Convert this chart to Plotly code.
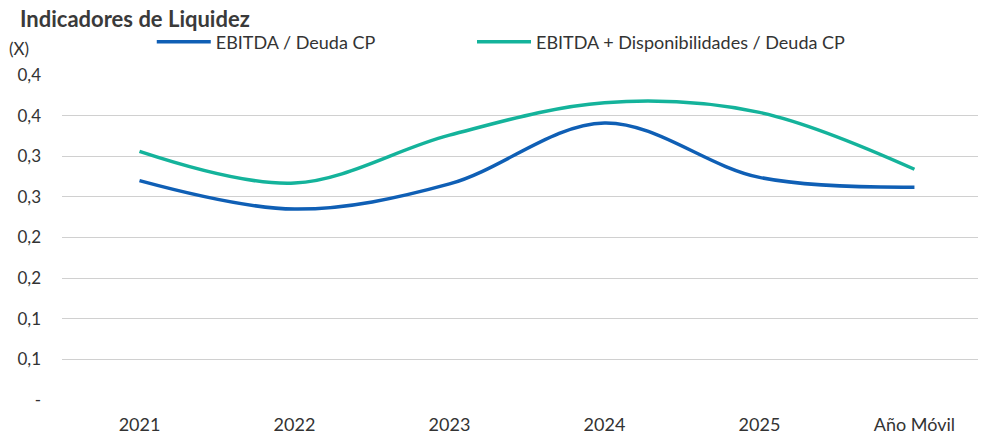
import plotly.graph_objects as go

categories = ["2021", "2022", "2023", "2024", "2025", "Año Móvil"]
ebitda_deuda = [0.270, 0.235, 0.266, 0.341, 0.274, 0.262]
ebitda_disp_deuda = [0.306, 0.267, 0.326, 0.366, 0.354, 0.284]

y_tickvals = [0, 0.05, 0.10, 0.15, 0.20, 0.25, 0.30, 0.35, 0.40]
y_ticktext = ["-", "0,1", "0,1", "0,2", "0,2", "0,3", "0,3", "0,4", "0,4"]

BLUE = "#0F5FB5"
GREEN = "#14B39B"
FONT = "Lato"

fig = go.Figure()
fig.add_trace(
    go.Scatter(
        x=list(range(len(categories))),
        y=ebitda_deuda,
        name="EBITDA / Deuda CP",
        mode="lines",
        line=dict(color=BLUE, width=3.5, shape="spline", smoothing=1.0),
        legend="legend",
    )
)
fig.add_trace(
    go.Scatter(
        x=list(range(len(categories))),
        y=ebitda_disp_deuda,
        name="EBITDA + Disponibilidades / Deuda CP",
        mode="lines",
        line=dict(color=GREEN, width=3.5, shape="spline", smoothing=1.0),
        legend="legend2",
    )
)

legend_style = dict(
    orientation="h",
    xanchor="left",
    y=0.904,
    yanchor="middle",
    yref="container",
    itemwidth=54,
    font=dict(family=FONT, size=18, color="#333333"),
    bgcolor="rgba(0,0,0,0)",
)

fig.update_layout(
    width=981,
    height=437,
    plot_bgcolor="white",
    paper_bgcolor="white",
    font=dict(family=FONT, size=18, color="#333333"),
    margin=dict(l=62, r=3, t=75, b=37),
    showlegend=True,
    legend=dict(x=0.098, **legend_style),
    legend2=dict(x=0.4476, **legend_style),
)

# title and unit label above the plot
fig.add_annotation(
    text="<b>Indicadores de Liquidez</b>",
    xref="paper", yref="paper",
    x=-0.048, y=1.175,
    xanchor="left", yanchor="middle",
    showarrow=False,
    font=dict(family=FONT, size=22, color="#3a3a3a"),
)
fig.add_annotation(
    text="(X)",
    xref="paper", yref="paper",
    x=-0.06, y=1.083,
    xanchor="left", yanchor="middle",
    showarrow=False,
    font=dict(family=FONT, size=17, color="#333333"),
)

fig.update_xaxes(
    tickvals=list(range(len(categories))),
    ticktext=categories,
    range=[-0.5, 5.41],
    showgrid=False,
    zeroline=False,
    showline=False,
    ticks="",
    ticklabelstandoff=12,
    tickfont=dict(size=18),
)
fig.update_yaxes(
    range=[0, 0.4],
    tickvals=y_tickvals,
    ticktext=y_ticktext,
    showgrid=True,
    gridcolor="#d0d0d0",
    gridwidth=1,
    zeroline=False,
    showline=False,
    ticks="",
    ticklabelstandoff=20,
    tickfont=dict(size=17),
)

fig.write_html(
    "out.html",
    config={"displayModeBar": False},
    post_script="document.body.style.margin='0';",
)
